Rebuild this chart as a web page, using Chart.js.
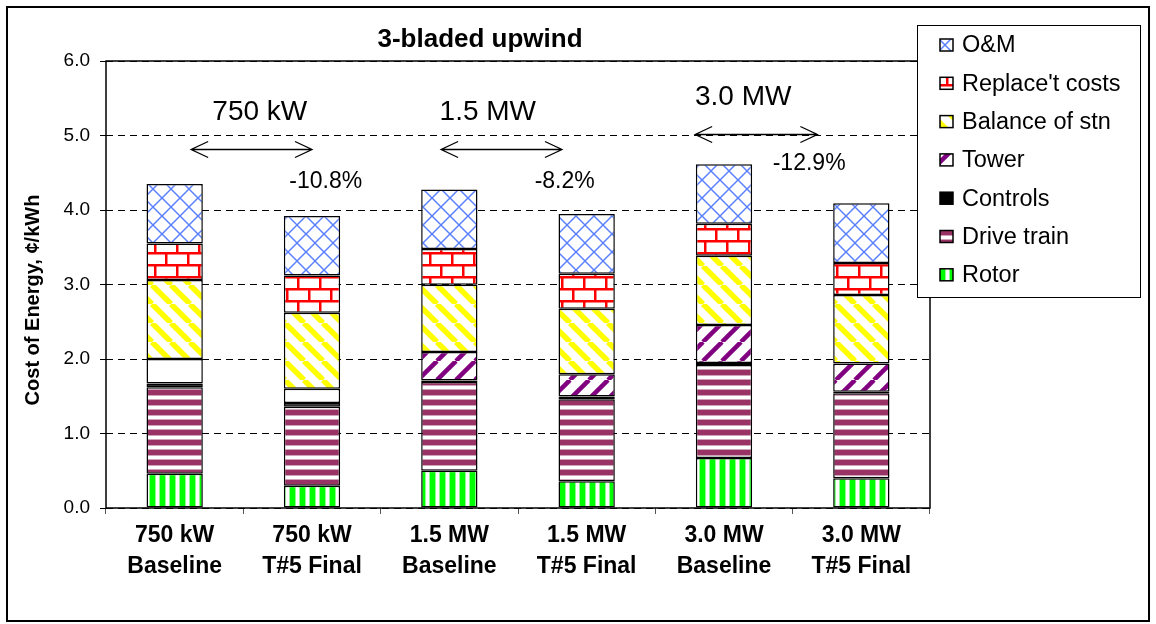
<!DOCTYPE html>
<html>
<head>
<meta charset="utf-8">
<title>3-bladed upwind</title>
<script src="https://cdn.jsdelivr.net/npm/chart.js@4.4.1/dist/chart.umd.min.js"></script>
<style>
  html, body { margin: 0; padding: 0; background: #fff; }
  #wrap { width: 1156px; height: 624px; }
</style>
</head>
<body>
<div id="wrap"><canvas id="coe" width="1156" height="624"></canvas></div>
<script>
// Cost of energy breakdown, cents/kWh, bottom segment first
const categories = [
  ['750 kW', 'Baseline'], ['750 kW', 'T#5 Final'],
  ['1.5 MW', 'Baseline'], ['1.5 MW', 'T#5 Final'],
  ['3.0 MW', 'Baseline'], ['3.0 MW', 'T#5 Final']
];
const rotor        = [0.46, 0.30, 0.50, 0.36, 0.67, 0.40];
const driveTrain   = [1.16, 1.06, 1.19, 1.10, 1.25, 1.14];
const controls     = [0.05, 0.05, 0.02, 0.035, 0.025, 0.02];
const tower        = [0.33, 0.19, 0.385, 0.30, 0.51, 0.38];
const balanceOfStn = [1.06, 1.02, 0.90, 0.88, 0.93, 0.92];
const replaceCosts = [0.49, 0.50, 0.48, 0.47, 0.43, 0.43];
const om           = [0.80, 0.80, 0.80, 0.80, 0.80, 0.80];
const yTickLabels  = ['0.0', '1.0', '2.0', '3.0', '4.0', '5.0', '6.0'];

// size labels, double arrows and % change notes (x in category units, y in c/kWh)
const sizeNotes = [
  { text: '750 kW', x: 0.62, y: 5.31 },
  { text: '1.5 MW', x: 2.28, y: 5.31 },
  { text: '3.0 MW', x: 4.14, y: 5.51 }
];
const arrows = [
  { from: 0.12, to: 1.00, y: 4.82 },
  { from: 1.94, to: 2.82, y: 4.82 },
  { from: 3.79, to: 4.68, y: 5.02 }
];
const changeNotes = [
  { text: '-10.8%', x: 1.10, y: 4.38 },
  { text: '-8.2%',  x: 2.84, y: 4.38 },
  { text: '-12.9%', x: 4.62, y: 4.62 }
];

const FONT = "'Liberation Sans', Arial, sans-serif";
const canvas = document.getElementById('coe');
const ctx = canvas.getContext('2d');

// ---- fill patterns ----
function tile(w, h, draw) {
  const c = document.createElement('canvas');
  c.width = w; c.height = h;
  const g = c.getContext('2d');
  g.fillStyle = '#fff';
  g.fillRect(0, 0, w, h);
  draw(g, w, h);
  return ctx.createPattern(c, 'repeat');
}
function diagonal(color, width, T, up) {
  return tile(T, T, g => {
    g.strokeStyle = color; g.lineWidth = width;
    for (let k = -1; k <= 1; k++) {
      g.beginPath();
      if (up) { g.moveTo(k * T, T); g.lineTo(k * T + T, 0); }
      else    { g.moveTo(k * T, 0); g.lineTo(k * T + T, T); }
      g.stroke();
    }
  });
}
const pRotor = tile(10, 10, g => {
  g.fillStyle = '#00ff00'; g.fillRect(0, 0, 5, 10);
  g.fillStyle = '#8cff8c'; g.fillRect(5, 0, 1, 10); g.fillRect(9, 0, 1, 10);
});
const pDrive = tile(10, 10, g => {
  g.fillStyle = '#993366'; g.fillRect(0, 0, 10, 5);
  g.fillStyle = '#cfa3b8'; g.fillRect(0, 5, 10, 1); g.fillRect(0, 9, 10, 1);
});
const pTower = diagonal('#800080', 4.5, 19, true);
const pBos = diagonal('#ffff00', 5.5, 19, false);
const pBrick = tile(22, 24, g => {
  g.fillStyle = '#ff0000';
  g.fillRect(0, 0, 22, 2.5);
  g.fillRect(0, 12, 22, 2.5);
  g.fillRect(0, 0, 2.5, 12);
  g.fillRect(11, 12, 2.5, 12);
});
const pOm = tile(18, 18, g => {
  g.strokeStyle = '#5b80ff'; g.lineWidth = 1.5;
  for (let k = -1; k <= 1; k++) {
    g.beginPath(); g.moveTo(k * 18, 0); g.lineTo(k * 18 + 18, 18); g.stroke();
    g.beginPath(); g.moveTo(k * 18, 18); g.lineTo(k * 18 + 18, 0); g.stroke();
  }
});

const seg = (label, data, bg) => ({
  label, data, backgroundColor: bg,
  borderColor: '#000', borderWidth: 1.5, borderSkipped: false,
  barPercentage: 0.41, categoryPercentage: 1
});

// ---- title, axis title, notes, frame and legend ----
const decorations = {
  id: 'decorations',
  afterDraw(chart) {
    const c = chart.ctx;
    const { left, right, top, bottom } = chart.chartArea;
    const xs = chart.scales.x, ys = chart.scales.y;
    c.save();

    // plot frame
    c.strokeStyle = '#000'; c.lineWidth = 1.5;
    c.strokeRect(left, top, right - left, bottom - top);

    // title
    c.fillStyle = '#000';
    c.textAlign = 'center'; c.textBaseline = 'middle';
    c.font = `bold 26px ${FONT}`;
    c.fillText('3-bladed upwind', 480, 40);

    // y-axis title
    c.save();
    c.translate(33, 300);
    c.rotate(-Math.PI / 2);
    c.font = `bold 20px ${FONT}`;
    c.fillText('Cost of Energy, \u00a2/kWh', 0, 0);
    c.restore();

    // size labels and % changes
    c.font = `28px ${FONT}`;
    sizeNotes.forEach(n => c.fillText(n.text, xs.getPixelForValue(n.x), ys.getPixelForValue(n.y)));
    c.font = `23px ${FONT}`;
    changeNotes.forEach(n => c.fillText(n.text, xs.getPixelForValue(n.x), ys.getPixelForValue(n.y)));

    // double-headed arrows
    c.lineWidth = 1.3;
    arrows.forEach(a => {
      const x1 = xs.getPixelForValue(a.from), x2 = xs.getPixelForValue(a.to);
      const y = Math.round(ys.getPixelForValue(a.y)) + 0.5;
      c.beginPath();
      c.moveTo(x1, y); c.lineTo(x2, y);
      c.moveTo(x1 + 17, y - 8); c.lineTo(x1, y); c.lineTo(x1 + 17, y + 8);
      c.moveTo(x2 - 17, y - 8); c.lineTo(x2, y); c.lineTo(x2 - 17, y + 8);
      c.stroke();
    });

    // legend box, top entry = top segment
    const lx = 917.5, ly = 25.5, lw = 223, lh = 272;
    c.fillStyle = '#fff';
    c.fillRect(lx, ly, lw, lh);
    c.strokeStyle = '#000'; c.lineWidth = 1;
    c.strokeRect(lx, ly, lw, lh);
    c.font = `23.5px ${FONT}`;
    c.textAlign = 'left';
    const sets = chart.data.datasets.slice().reverse();
    sets.forEach((ds, i) => {
      const cy = 45 + i * 38.3;
      const bg = Array.isArray(ds.backgroundColor) ? ds.backgroundColor[ds.backgroundColor.length - 1] : ds.backgroundColor;
      c.fillStyle = bg;
      c.fillRect(940, cy - 6, 13, 12);
      c.strokeStyle = '#000'; c.lineWidth = 1.5;
      c.strokeRect(940, cy - 6, 13, 12);
      c.fillStyle = '#000';
      c.fillText(ds.label, 962, cy + 1);
    });

    // outer chart border
    c.strokeStyle = '#000'; c.lineWidth = 2;
    c.strokeRect(7, 7, 1142, 614);
    c.restore();
  }
};

new Chart(canvas, {
  type: 'bar',
  data: {
    labels: categories,
    datasets: [
      seg('Rotor', rotor, pRotor),
      seg('Drive train', driveTrain, pDrive),
      seg('Controls', controls, '#000'),
      seg('Tower', tower, ['#fff', '#fff', pTower, pTower, pTower, pTower]),
      seg('Balance of stn', balanceOfStn, pBos),
      seg("Replace't costs", replaceCosts, pBrick),
      seg('O&M', om, pOm)
    ]
  },
  options: {
    responsive: false,
    animation: false,
    devicePixelRatio: 1,
    layout: { padding: { top: 61, right: 226, bottom: 0, left: 0 } },
    plugins: {
      legend: { display: false },
      title: { display: false },
      tooltip: { enabled: false }
    },
    scales: {
      x: {
        stacked: true,
        grid: { display: true, drawOnChartArea: false, drawTicks: true, tickLength: 6, color: '#555', offset: true },
        border: { display: false },
        ticks: {
          color: '#000', padding: 6, maxRotation: 0, autoSkip: false,
          font: { family: FONT, size: 23, weight: 'bold', lineHeight: 1.35 }
        },
        afterFit: s => { s.height = 116; }
      },
      y: {
        stacked: true,
        min: 0, max: 6,
        grid: { color: '#000', lineWidth: 1, tickLength: 6, tickColor: '#000' },
        border: { display: false, dash: [7, 5] },
        ticks: {
          stepSize: 1, padding: 10, color: '#000',
          font: { family: FONT, size: 19 },
          callback: v => yTickLabels[Math.round(v)]
        },
        afterFit: s => { s.width = 106; }
      }
    }
  },
  plugins: [decorations]
});
</script>
</body>
</html>
